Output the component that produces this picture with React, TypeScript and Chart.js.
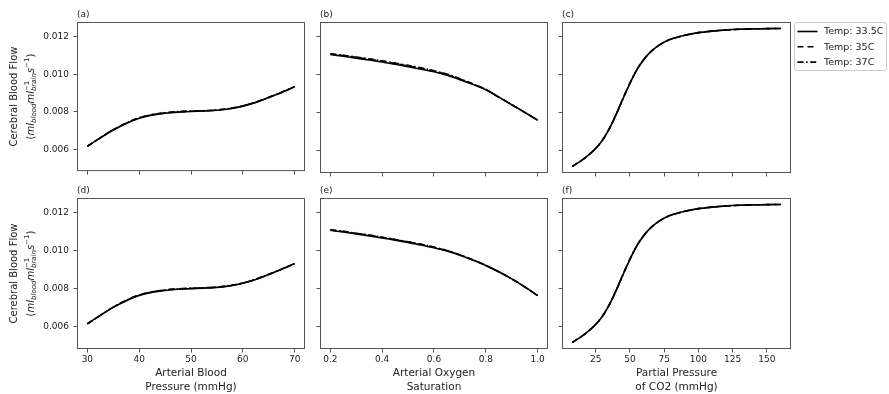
import React, { useEffect, useRef } from "react";
import { Chart, registerables } from "chart.js";

Chart.register(...registerables);

// ---------------- data ----------------
const seriesNames = ["Temp: 33.5C", "Temp: 35C", "Temp: 37C"];

const yRange = [0.00484, 0.01278];
const yTicks = [0.006, 0.008, 0.01, 0.012];

const abpRange = [28, 72];
const abpTicks = [30, 40, 50, 60, 70];
const saoRange = [0.16, 1.04];
const saoTicks = [0.2, 0.4, 0.6, 0.8, 1.0];
const co2Range = [0.4, 167.6];
const co2Ticks = [25, 50, 75, 100, 125, 150];

const abpTitle = ["Arterial Blood", "Pressure (mmHg)"];
const saoTitle = ["Arterial Oxygen", "Saturation"];
const co2Title = ["Partial Pressure", "of CO2 (mmHg)"];
const yTitleLine1 = "Cerebral Blood Flow";

// (a)/(d) arterial blood pressure
const abpX = [30, 32.5, 35, 37.5, 40, 42.5, 45, 47.5, 50, 52.5, 55, 57.5, 60, 62.5, 65, 67.5, 70];
const abpT335 = [0.00616, 0.00661, 0.00703, 0.00738, 0.00766, 0.00782, 0.00792, 0.00798, 0.00801, 0.00804, 0.00808, 0.00816, 0.0083, 0.0085, 0.00876, 0.00903, 0.00933];
const abpT35 = [0.00616, 0.00661, 0.00704, 0.00739, 0.00767, 0.00784, 0.00794, 0.008, 0.00803, 0.00805, 0.00809, 0.00817, 0.00831, 0.00851, 0.00876, 0.00903, 0.00933];
const abpT37 = [0.00617, 0.00661, 0.00704, 0.0074, 0.00768, 0.00785, 0.00795, 0.00801, 0.00804, 0.00806, 0.0081, 0.00818, 0.00831, 0.00851, 0.00877, 0.00904, 0.00934];

// (b) arterial oxygen saturation, top row
const saoX = [0.2, 0.25, 0.3, 0.35, 0.4, 0.45, 0.5, 0.55, 0.6, 0.65, 0.7, 0.75, 0.8, 0.85, 0.9, 0.95, 1.0];
const saoTopT335 = [0.01107, 0.01098, 0.01088, 0.01078, 0.01068, 0.01056, 0.01043, 0.0103, 0.01016, 0.00998, 0.00975, 0.0095, 0.00922, 0.00883, 0.00843, 0.00803, 0.00762];
const saoTopT35 = [0.0111, 0.01102, 0.01092, 0.01082, 0.01072, 0.0106, 0.01047, 0.01034, 0.0102, 0.01002, 0.00978, 0.00952, 0.00923, 0.00883, 0.00843, 0.00803, 0.00762];
const saoTopT37 = [0.01111, 0.01103, 0.01094, 0.01084, 0.01074, 0.01062, 0.0105, 0.01037, 0.01022, 0.01004, 0.0098, 0.00953, 0.00923, 0.00883, 0.00843, 0.00803, 0.00762];

// (e) arterial oxygen saturation, bottom row
const saoBotT335 = [0.01108, 0.01099, 0.01089, 0.01079, 0.01068, 0.01056, 0.01044, 0.01031, 0.01016, 0.00999, 0.00977, 0.00952, 0.00923, 0.0089, 0.00853, 0.00811, 0.00765];
const saoBotT35 = [0.0111, 0.01102, 0.01092, 0.01082, 0.01071, 0.01059, 0.01047, 0.01034, 0.01019, 0.01001, 0.00978, 0.00953, 0.00923, 0.0089, 0.00853, 0.00811, 0.00766];
const saoBotT37 = [0.01111, 0.01103, 0.01093, 0.01083, 0.01072, 0.0106, 0.01048, 0.01035, 0.0102, 0.01002, 0.00979, 0.00953, 0.00924, 0.0089, 0.00853, 0.00811, 0.00765];

// (c)/(f) partial pressure of CO2
const co2X = [8, 12, 16, 20, 25, 30, 35, 40, 45, 50, 55, 60, 65, 70, 75, 80, 90, 100, 110, 120, 130, 140, 150, 160];
const co2T335 = [0.00519, 0.00537, 0.00557, 0.0058, 0.00613, 0.00657, 0.00717, 0.00793, 0.00876, 0.00956, 0.01026, 0.0108, 0.0112, 0.0115, 0.01172, 0.01188, 0.01208, 0.01222, 0.0123, 0.01236, 0.0124, 0.01242, 0.01243, 0.01244];
const co2T35 = [0.00519, 0.00537, 0.00557, 0.0058, 0.00613, 0.00657, 0.00717, 0.00793, 0.00876, 0.00956, 0.01026, 0.0108, 0.0112, 0.0115, 0.01172, 0.01188, 0.01208, 0.01222, 0.0123, 0.01236, 0.0124, 0.01242, 0.01243, 0.01244];
const co2T37 = [0.00519, 0.00537, 0.00557, 0.00581, 0.00614, 0.00658, 0.00718, 0.00794, 0.00877, 0.00957, 0.01026, 0.0108, 0.0112, 0.0115, 0.01172, 0.01188, 0.01208, 0.01222, 0.0123, 0.01236, 0.0124, 0.01242, 0.01243, 0.01244];

// ---------------- layout / style ----------------
const W = 889;
const H = 394;
const COL_L = [77, 320, 562];
const COL_R = [305, 548, 791];
const ROW_T = [22, 198];
const ROW_B = [173, 349];
const LEFT_M = [77, 12, 12];
const RIGHT_M = [6, 6, W - 791];
const TOP_M = 22;
const BOT_M = [8, H - 349];

const FONT = "'DejaVu Sans', sans-serif";
const TEXT = "#222222";
const FRAME = "#555555";
const DASHES: number[][] = [[], [6, 4], [6, 2.6, 1.5, 2.6]];

type PanelDef = {
  label: string;
  row: number;
  col: number;
  xs: number[];
  ys: number[][];
  xRange: number[];
  xTicks: number[];
  xDec: number;
  xTitle: string[];
};

const panels: PanelDef[] = [
  { label: "(a)", row: 0, col: 0, xs: abpX, ys: [abpT335, abpT35, abpT37], xRange: abpRange, xTicks: abpTicks, xDec: 0, xTitle: abpTitle },
  { label: "(b)", row: 0, col: 1, xs: saoX, ys: [saoTopT335, saoTopT35, saoTopT37], xRange: saoRange, xTicks: saoTicks, xDec: 1, xTitle: saoTitle },
  { label: "(c)", row: 0, col: 2, xs: co2X, ys: [co2T335, co2T35, co2T37], xRange: co2Range, xTicks: co2Ticks, xDec: 0, xTitle: co2Title },
  { label: "(d)", row: 1, col: 0, xs: abpX, ys: [abpT335, abpT35, abpT37], xRange: abpRange, xTicks: abpTicks, xDec: 0, xTitle: abpTitle },
  { label: "(e)", row: 1, col: 1, xs: saoX, ys: [saoBotT335, saoBotT35, saoBotT37], xRange: saoRange, xTicks: saoTicks, xDec: 1, xTitle: saoTitle },
  { label: "(f)", row: 1, col: 2, xs: co2X, ys: [co2T335, co2T35, co2T37], xRange: co2Range, xTicks: co2Ticks, xDec: 0, xTitle: co2Title },
];

type Piece = { t: string; it: boolean; s: number; dy: number };

function drawMathLine(ctx: CanvasRenderingContext2D, cx: number, cy: number) {
  const base = 10;
  const sc = 7;
  const groups: Piece[][] = [
    [{ t: "(", it: false, s: base, dy: 0 }],
    [{ t: "ml", it: true, s: base, dy: 0 }],
    [{ t: "blood", it: true, s: sc, dy: 2.6 }],
    [{ t: "ml", it: true, s: base, dy: 0 }],
    [
      { t: "\u22121", it: false, s: sc, dy: -4.6 },
      { t: "brain", it: true, s: sc, dy: 2.6 },
    ],
    [{ t: "s", it: true, s: base, dy: 0 }],
    [{ t: "\u22121", it: false, s: sc, dy: -4.6 }],
    [{ t: ")", it: false, s: base, dy: 0 }],
  ];
  const fontOf = (p: Piece) => `${p.it ? "italic " : ""}${p.s}px ${FONT}`;
  const widths = groups.map((g) =>
    Math.max(
      ...g.map((p) => {
        ctx.font = fontOf(p);
        return ctx.measureText(p.t).width;
      })
    )
  );
  const total = widths.reduce((a, b) => a + b, 0);
  ctx.save();
  ctx.translate(cx, cy);
  ctx.rotate(-Math.PI / 2);
  ctx.fillStyle = TEXT;
  ctx.textAlign = "left";
  ctx.textBaseline = "alphabetic";
  let x = -total / 2;
  const baseLine = 3.6;
  groups.forEach((g, i) => {
    g.forEach((p) => {
      ctx.font = fontOf(p);
      ctx.fillText(p.t, x, baseLine + p.dy);
    });
    x += widths[i];
  });
  ctx.restore();
}

function makeDecor(p: PanelDef) {
  return {
    id: "decor" + p.label,
    afterDraw(chart: any) {
      const ctx: CanvasRenderingContext2D = chart.ctx;
      const a = chart.chartArea;
      ctx.save();
      // axes frame
      ctx.strokeStyle = FRAME;
      ctx.lineWidth = 1;
      ctx.setLineDash([]);
      ctx.strokeRect(a.left + 0.5, a.top + 0.5, a.right - a.left - 1, a.bottom - a.top - 1);
      // panel label
      ctx.fillStyle = TEXT;
      ctx.font = `9px ${FONT}`;
      ctx.textAlign = "left";
      ctx.textBaseline = "middle";
      ctx.fillText(p.label, a.left, a.top - 7.5);
      // y title on left column
      if (p.col === 0) {
        const cy = (a.top + a.bottom) / 2;
        ctx.save();
        ctx.translate(14, cy);
        ctx.rotate(-Math.PI / 2);
        ctx.font = `10px ${FONT}`;
        ctx.textAlign = "center";
        ctx.textBaseline = "middle";
        ctx.fillStyle = TEXT;
        ctx.fillText(yTitleLine1, 0, 0);
        ctx.restore();
        drawMathLine(ctx, 30, cy);
      }
      // legend next to (c)
      if (p.row === 0 && p.col === 2) {
        const x0 = a.right + 3.5;
        const y0 = a.top + 0.5;
        ctx.beginPath();
        ctx.roundRect(x0, y0, 92, 48, 2.5);
        ctx.fillStyle = "rgba(255,255,255,0.8)";
        ctx.fill();
        ctx.strokeStyle = "#cccccc";
        ctx.lineWidth = 1;
        ctx.stroke();
        seriesNames.forEach((name, i) => {
          const y = a.top + 9.5 + i * 15.3;
          ctx.setLineDash(DASHES[i]);
          ctx.strokeStyle = "#000000";
          ctx.lineWidth = 1.6;
          ctx.beginPath();
          ctx.moveTo(a.right + 6.5, y);
          ctx.lineTo(a.right + 26.5, y);
          ctx.stroke();
          ctx.setLineDash([]);
          ctx.fillStyle = TEXT;
          ctx.font = `9.5px ${FONT}`;
          ctx.textAlign = "left";
          ctx.textBaseline = "middle";
          ctx.fillText(name, a.right + 33, y + 0.5);
        });
      }
      ctx.restore();
    },
  };
}

function Panel({ p }: { p: PanelDef }) {
  const ref = useRef<HTMLCanvasElement | null>(null);
  const lm = LEFT_M[p.col];
  const rm = RIGHT_M[p.col];
  const bm = BOT_M[p.row];
  const left = COL_L[p.col] - lm;
  const top = ROW_T[p.row] - TOP_M;
  const width = COL_R[p.col] + rm - left;
  const height = ROW_B[p.row] + bm - top;
  const showX = p.row === 1;
  const showY = p.col === 0;

  useEffect(() => {
    const canvas = ref.current;
    if (!canvas) return;
    const datasets = p.ys.map((ys, i) => ({
      label: seriesNames[i],
      data: p.xs.map((x, j) => ({ x, y: ys[j] })),
      borderColor: "#000000",
      backgroundColor: "#000000",
      borderWidth: 1.6,
      borderDash: DASHES[i],
      pointRadius: 0,
      fill: false,
      tension: 0.35,
      order: 3 - i,
    }));
    const chart = new Chart(canvas, {
      type: "line",
      data: { datasets },
      options: {
        animation: false,
        responsive: false,
        devicePixelRatio: 1,
        events: [],
        layout: { padding: { left: 0, top: TOP_M, right: rm, bottom: 0 } },
        plugins: {
          legend: { display: false },
          tooltip: { enabled: false },
          title: { display: false },
        },
        scales: {
          x: {
            type: "linear",
            min: p.xRange[0],
            max: p.xRange[1],
            bounds: "data",
            afterBuildTicks: (s: any) => {
              s.ticks = p.xTicks.map((v) => ({ value: v }));
            },
            afterFit: (s: any) => {
              s.height = bm;
            },
            grid: {
              display: true,
              drawOnChartArea: false,
              drawTicks: true,
              tickLength: 3.5,
              color: FRAME,
              tickColor: FRAME,
              tickWidth: 1,
            },
            border: { display: false },
            ticks: {
              display: showX,
              autoSkip: false,
              maxRotation: 0,
              padding: 1.5,
              color: TEXT,
              font: { family: FONT, size: 9 },
              callback: (v: any) => Number(v).toFixed(p.xDec),
            },
            title: {
              display: showX,
              text: p.xTitle,
              color: TEXT,
              font: { family: FONT, size: 10.5, lineHeight: 1.28 },
              padding: { top: 0, bottom: 0.5 },
            },
          },
          y: {
            type: "linear",
            min: yRange[0],
            max: yRange[1],
            bounds: "data",
            afterBuildTicks: (s: any) => {
              s.ticks = yTicks.map((v) => ({ value: v }));
            },
            afterFit: (s: any) => {
              s.width = lm;
            },
            grid: {
              display: true,
              drawOnChartArea: false,
              drawTicks: true,
              tickLength: 3.5,
              color: FRAME,
              tickColor: FRAME,
              tickWidth: 1,
            },
            border: { display: false },
            ticks: {
              display: showY,
              autoSkip: false,
              padding: 4.5,
              color: TEXT,
              font: { family: FONT, size: 9 },
              callback: (v: any) => Number(v).toFixed(3),
            },
          },
        },
      },
      plugins: [makeDecor(p)],
    } as any);
    return () => chart.destroy();
  }, []);

  return (
    <canvas
      ref={ref}
      width={width}
      height={height}
      style={{ position: "absolute", left, top, width, height, display: "block" }}
    />
  );
}

export default function App() {
  return (
    <div
      style={{
        position: "fixed",
        left: 0,
        top: 0,
        width: W,
        height: H,
        background: "#ffffff",
        overflow: "hidden",
      }}
    >
      {panels.map((p) => (
        <Panel key={p.label} p={p} />
      ))}
    </div>
  );
}
